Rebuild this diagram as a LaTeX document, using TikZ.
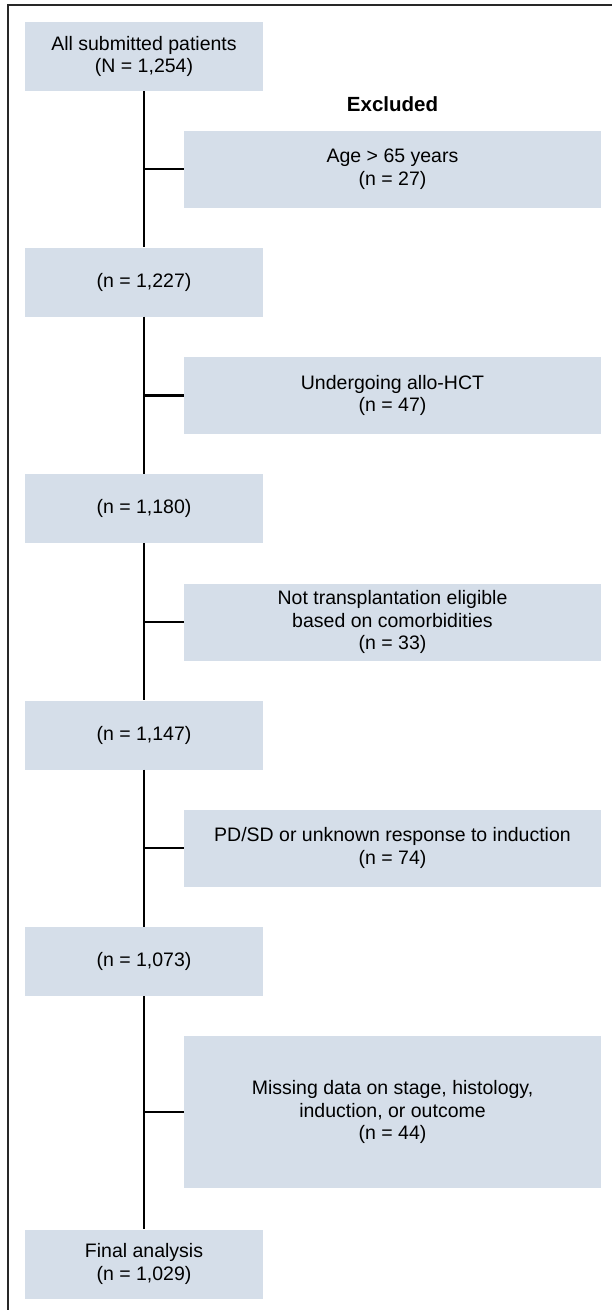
\documentclass[tikz,border=0pt]{standalone}
\usepackage{fontspec}
\setmainfont{Liberation Sans}
\usepackage{tikz}
\usetikzlibrary{calc}
\usetikzlibrary{positioning}
\definecolor{cajagris}{RGB}{213,222,233}
\definecolor{marco}{RGB}{40,40,40}

\begin{document}
\begin{tikzpicture}[x=1pt,y=-1pt,
	caja/.style={rectangle,fill=cajagris,inner sep=0pt,align=center,
		font=\fontsize{19.5}{22.5}\selectfont},
	paso/.style={caja,minimum width=238pt,minimum height=69pt},
	fuera/.style={caja,minimum width=417pt,minimum height=77pt},
	linea/.style={line width=2.6pt,black}]
				\useasboundingbox (0,0) rectangle (612,1310);
				\draw[line width=2pt,marco] (7.5,1310) -- (7.5,4.5) -- (612,4.5);
				\path 
				(144,56.5) node(todos) [paso] {All submitted patients\\(N = 1,254)}
				(144,282) node(p1) [paso] {(n = 1,227)}
				(144,508.5) node(p2) [paso] {(n = 1,180)}
				(144,735) node(p3) [paso] {(n = 1,147)}
				(144,961.5) node(p4) [paso] {(n = 1,073)}
				(144,1264) node(final) [paso] {Final analysis\\(n = 1,029)};
				\path 
				(392.5,104) node(excl) [font=\fontsize{20.5}{22.5}\selectfont\bfseries] {Excluded}
				(392.5,169) node(e1) [fuera] {Age > 65 years\\(n = 27)}
				(392.5,395.5) node(e2) [fuera] {Undergoing allo-HCT\\(n = 47)}
				(392.5,622) node(e3) [fuera] {Not transplantation eligible\\based on comorbidities\\(n = 33)}
				(392.5,848) node(e4) [fuera] {PD/SD or unknown response to induction\\(n = 74)}
				(392.5,1112) node(e5) [fuera,minimum height=152pt] {Missing data on stage, histology,\\induction, or outcome\\(n = 44)};
				\coordinate (j1) at (144,169);
				\coordinate (j2) at (144,395.5);
				\coordinate (j3) at (144,622);
				\coordinate (j4) at (144,848);
				\coordinate (j5) at (144,1112);
				\draw[linea]
				(todos) edge (p1)
				(p1) edge (p2)
				(p2) edge (p3)
				(p3) edge (p4)
				(p4) edge (final);
				\draw[linea]
				(j1) edge (e1)
				(j2) edge (e2)
				(j3) edge (e3)
				(j4) edge (e4)
				(j5) edge (e5);
			\end{tikzpicture}
\end{document}
